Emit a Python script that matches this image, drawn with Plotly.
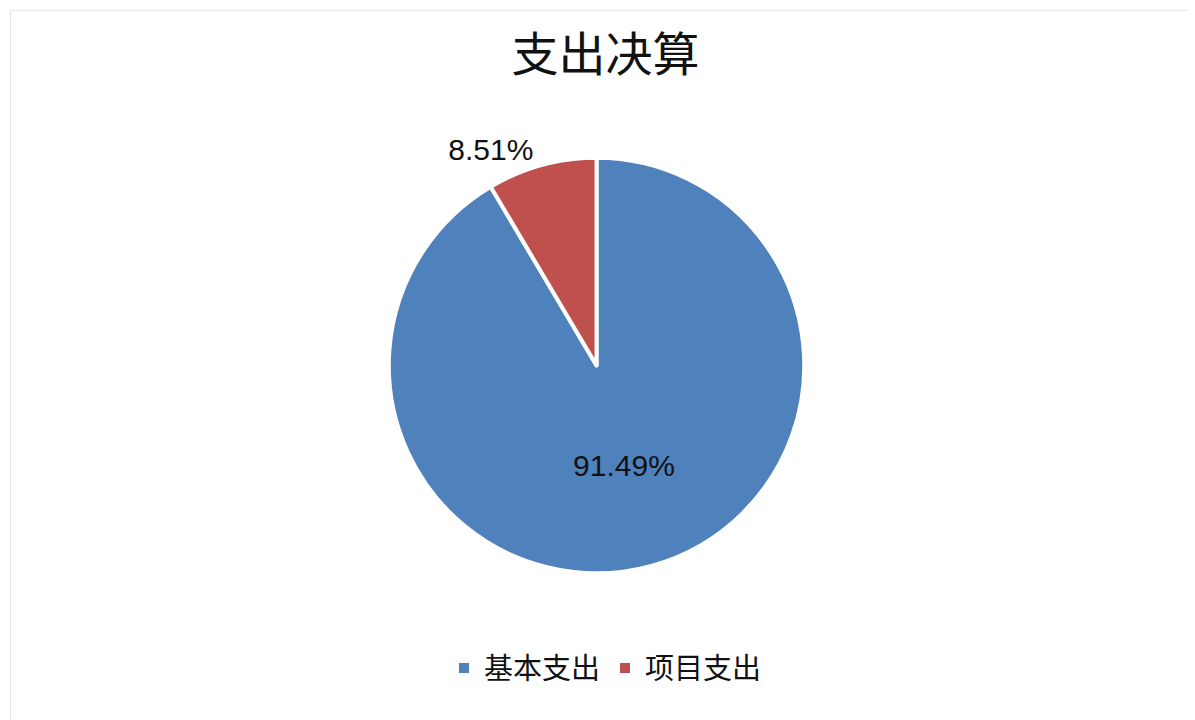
import plotly.graph_objects as go

# 支出决算 data
labels = ["基本支出", "项目支出"]
values = [91.49, 8.51]
colors = ["#4F81BD", "#C0504D"]
text_pos = ["inside", "outside"]

fig = go.Figure()
fig.add_trace(go.Pie(
    labels=labels,
    values=values,
    sort=False,
    direction="clockwise",
    rotation=0,
    marker=dict(colors=colors, line=dict(color="white", width=4)),
    textinfo="percent",
    texttemplate="%{percent:.2%}",
    textposition=text_pos,
    insidetextorientation="horizontal",
    textfont=dict(family="Liberation Sans, Arial", size=30, color="#111111"),
    domain=dict(x=[0.265, 0.72], y=[0.215, 0.792]),
    hoverinfo="label+percent",
))

fig.update_layout(
    width=1195,
    height=720,
    paper_bgcolor="white",
    plot_bgcolor="white",
    margin=dict(l=0, r=0, t=0, b=0),
    title=dict(
        text="支出决算",
        x=0.5, xanchor="center",
        y=0.935, yanchor="middle",
        font=dict(family="Noto Sans CJK SC", size=47, color="#111111"),
    ),
    showlegend=True,
    legend=dict(
        orientation="h",
        x=0.5, xanchor="center",
        y=0.083, yanchor="middle",
        font=dict(family="Noto Sans CJK SC", size=29, color="#111111"),
        itemsizing="constant",
    ),
    shapes=[dict(
        type="rect", xref="paper", yref="paper",
        x0=0.002, y0=0.004, x1=0.997, y1=0.997,
        line=dict(color="#E0E0E0", width=1),
    )],
)

fig.write_html("out.html")
